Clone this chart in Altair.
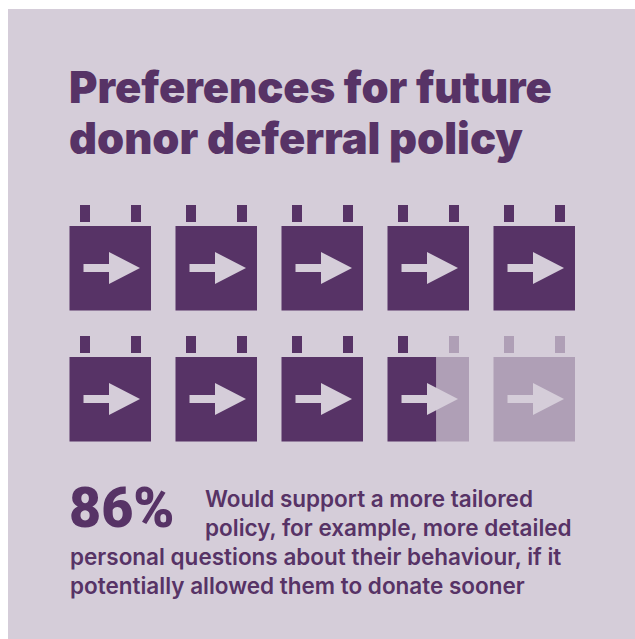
import altair as alt
import pandas as pd

SUPPORT_PCT = 86
ICONS_PER_ROW = 5
ROWS = 2
ICON_COUNT = ICONS_PER_ROW * ROWS

title_lines = ["Preferences for future", "donor deferral policy"]
stat_label = "86%"
body_lines = [
    "Would support a more tailored",
    "policy, for example, more detailed",
    "personal questions about their behaviour, if it",
    "potentially allowed them to donate sooner",
]

W, H = 635, 639
DARK = "#573366"
LIGHT = "#AF9FB6"
PANEL = "#D5CDD9"
FONT = "Inter"

# Grid geometry of the calendar pictogram
X0, Y0 = 69.5, 226
PITCH_X, PITCH_Y = 106, 131
BODY_W, BODY_H = 81.5, 84.5

bodies, tabs, shafts, heads = [], [], [], []
for i in range(ICON_COUNT):
    col, row = i % ICONS_PER_ROW, i // ICONS_PER_ROW
    left, top = X0 + col * PITCH_X, Y0 + row * PITCH_Y
    share = max(0.0, min(1.0, SUPPORT_PCT / 100 * ICON_COUNT - i))
    split = left + BODY_W * share
    if share > 0:
        bodies.append(dict(x=left, x2=split, y=top, y2=top + BODY_H, c="filled"))
    if share < 1:
        bodies.append(dict(x=split, x2=left + BODY_W, y=top, y2=top + BODY_H, c="empty"))
    for off in (10.5, 61.5):
        tabs.append(dict(x=left + off, x2=left + off + 10, y=top - 21, y2=top - 4,
                         c="filled" if left + off + 10 <= split else "empty"))
    mid = top + 42
    shafts.append(dict(x=left + 14, x2=left + 41, y=mid - 4, y2=mid + 4))
    heads.append(dict(icon=i, x=left + 39.5, y=mid - 16, y2=mid + 16))
    heads.append(dict(icon=i, x=left + 70.5, y=mid, y2=mid))

texts = []
for line, base in zip(title_lines, (103, 154)):
    texts.append(dict(t=line, x=69, y=base, kind="title"))
texts.append(dict(t=stat_label, x=69, y=527, kind="stat"))
for line, x, base in zip(body_lines, (205, 205, 70, 70), (507, 536, 565, 594)):
    texts.append(dict(t=line, x=x, y=base, kind="body"))

sx = alt.Scale(domain=[0, W], range=[0, W], nice=False, zero=False)
sy = alt.Scale(domain=[0, H], range=[0, H], nice=False, zero=False)
X = alt.X("x:Q", scale=sx, axis=None)
Y = alt.Y("y:Q", scale=sy, axis=None)
fill = alt.Color("c:N", scale=alt.Scale(domain=["filled", "empty"], range=[DARK, LIGHT]), legend=None)

panel = alt.Chart(pd.DataFrame([dict(x=8, x2=W, y=9, y2=H)])).mark_rect(color=PANEL).encode(
    x=X, x2="x2:Q", y=Y, y2="y2:Q")
body_layer = alt.Chart(pd.DataFrame(bodies)).mark_rect().encode(
    x=X, x2="x2:Q", y=Y, y2="y2:Q", color=fill)
tab_layer = alt.Chart(pd.DataFrame(tabs)).mark_rect().encode(
    x=X, x2="x2:Q", y=Y, y2="y2:Q", color=fill)
shaft_layer = alt.Chart(pd.DataFrame(shafts)).mark_rect(color=PANEL).encode(
    x=X, x2="x2:Q", y=Y, y2="y2:Q")
head_layer = alt.Chart(pd.DataFrame(heads)).mark_area(color=PANEL, opacity=1).encode(
    x=X, y=Y, y2="y2:Q", detail="icon:N")

df_text = pd.DataFrame(texts)


def text_layer(kind, size, weight, font=FONT):
    return alt.Chart(df_text[df_text.kind == kind]).mark_text(
        align="left", baseline="alphabetic", font=font, fontSize=size,
        fontWeight=weight, color=DARK,
    ).encode(x=X, y=Y, text="t:N")


chart = alt.layer(
    panel, body_layer, tab_layer, shaft_layer, head_layer,
    text_layer("title", 43.4, 900),
    text_layer("stat", 55.5, 900, font="Roboto"),
    text_layer("body", 22.5, 600),
).properties(width=W, height=H, padding=0, background="white",
             autosize=alt.AutoSizeParams(type="none")).configure_view(stroke=None)

chart.save("out.html", embed_options={"renderer": "svg", "actions": False})
